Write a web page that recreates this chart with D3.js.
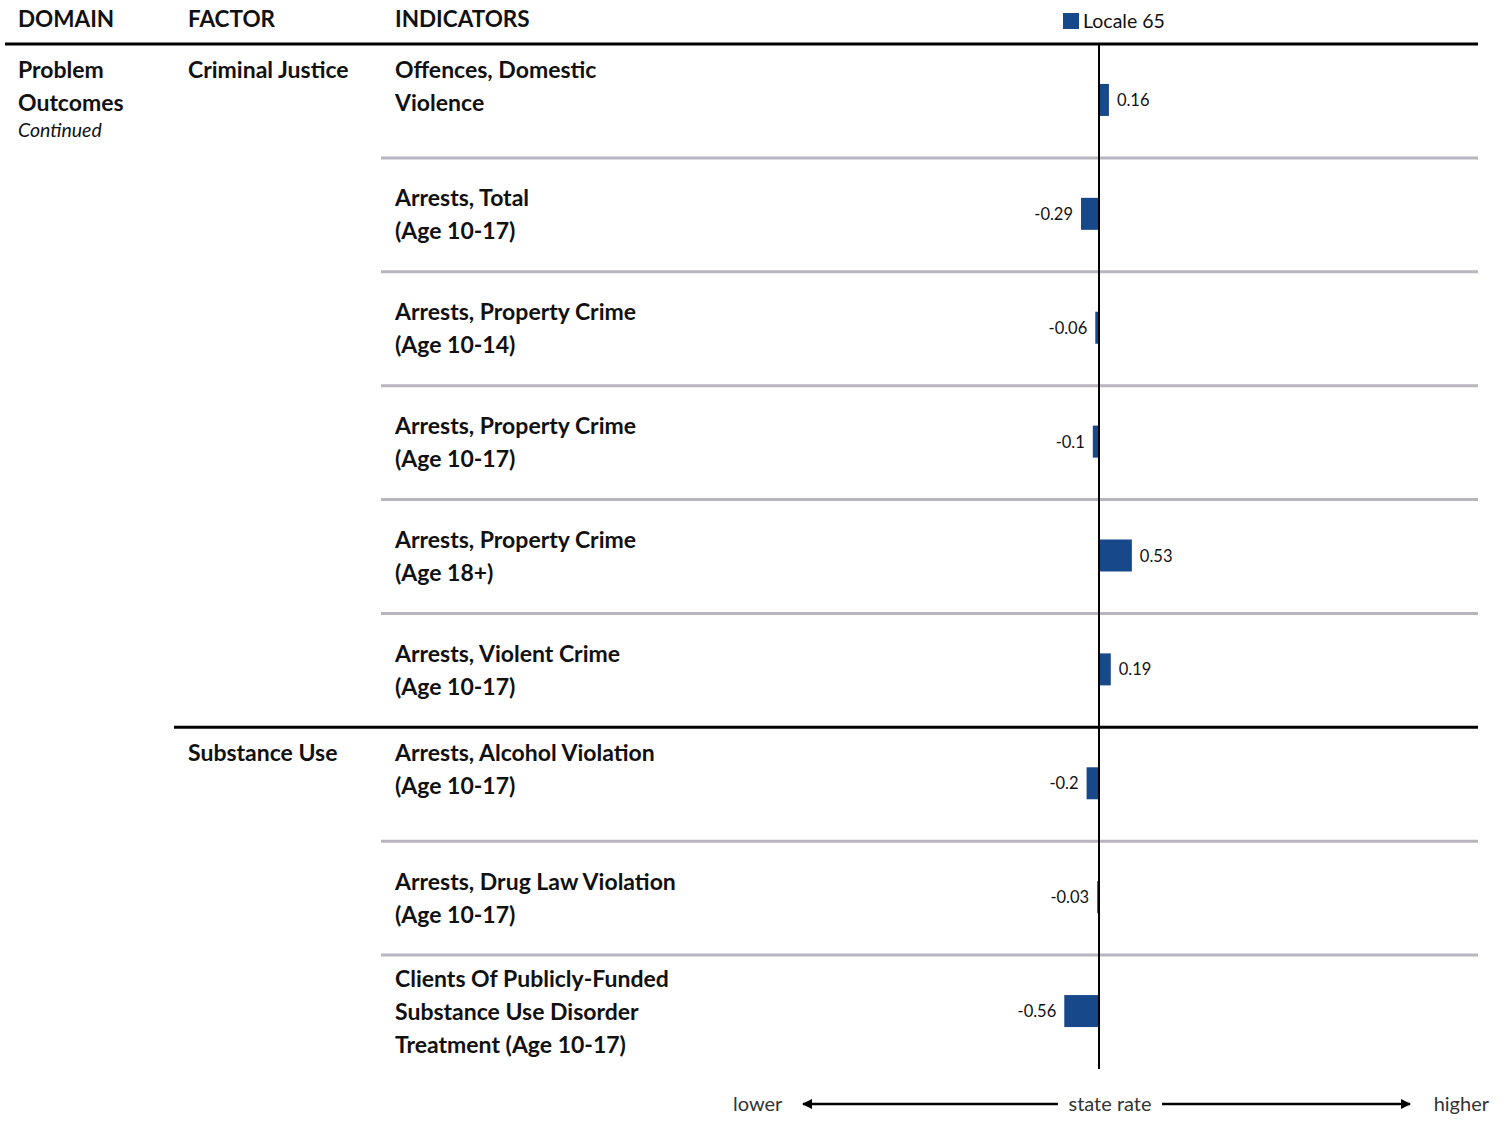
<!DOCTYPE html>
<html>
<head>
<meta charset="utf-8">
<script src="https://cdn.jsdelivr.net/npm/d3@7"></script>
<style>
  body { margin: 0; background: #fff; }
  text { font-family: Lato, "Open Sans", sans-serif; fill: #111; }
</style>
</head>
<body>
<div id="container"></div>
<script>
const w = 1507;
const h = 1121;

const indicators = [
  ['Offences, Domestic', 'Violence'],
  ['Arrests, Total', '(Age 10-17)'],
  ['Arrests, Property Crime', '(Age 10-14)'],
  ['Arrests, Property Crime', '(Age 10-17)'],
  ['Arrests, Property Crime', '(Age 18+)'],
  ['Arrests, Violent Crime', '(Age 10-17)'],
  ['Arrests, Alcohol Violation', '(Age 10-17)'],
  ['Arrests, Drug Law Violation', '(Age 10-17)'],
  ['Clients Of Publicly-Funded', 'Substance Use Disorder', 'Treatment (Age 10-17)']
];
const values = [0.16, -0.29, -0.06, -0.1, 0.53, 0.19, -0.2, -0.03, -0.56];
const labels = ['0.16', '-0.29', '-0.06', '-0.1', '0.53', '0.19', '-0.2', '-0.03', '-0.56'];
const factors = ['Criminal Justice', 'Substance Use'];
const factorStart = [0, 6];
const domainLines = ['Problem', 'Outcomes'];
const seriesName = 'Locale 65';

const barColor = '#17488a';
const y0 = 44, y1 = 1069;
const bold = '23px';

const svg = d3.select('#container')
  .append('svg')
  .attr('width', w)
  .attr('height', h)
  .attr('viewBox', [0, 0, w, h]);

const x = d3.scaleLinear()
  .domain([-1, 1])
  .range([1037, 1161]);

const y = d3.scaleBand()
  .domain(d3.range(values.length))
  .range([y0, y1]);

// header
const heads = [['DOMAIN', 18], ['FACTOR', 188], ['INDICATORS', 395]];
svg.selectAll('.head')
  .data(heads)
  .enter()
  .append('text')
  .attr('x', d => d[1])
  .attr('y', 27)
  .style('font-size', '22.5px')
  .style('font-weight', 'bold')
  .text(d => d[0]);

// legend
svg.append('rect')
  .attr('x', 1063).attr('y', 13)
  .attr('width', 16).attr('height', 16)
  .attr('fill', barColor);
svg.append('text')
  .attr('x', 1083).attr('y', 28)
  .style('font-size', '19.5px')
  .text(seriesName);

// row separators
svg.selectAll('.sep')
  .data(d3.range(1, values.length).filter(i => !factorStart.includes(i)))
  .enter()
  .append('line')
  .attr('x1', 381).attr('x2', 1478)
  .attr('y1', i => y(i)).attr('y2', i => y(i))
  .attr('stroke', '#b8b5c0')
  .attr('stroke-width', 3);

// factor separator
factorStart.slice(1).forEach(i => {
  svg.append('line')
    .attr('x1', 174).attr('x2', 1478)
    .attr('y1', y(i)).attr('y2', y(i))
    .attr('stroke', '#000')
    .attr('stroke-width', 3);
});

svg.append('line')
  .attr('x1', 5).attr('x2', 1478)
  .attr('y1', y0).attr('y2', y0)
  .attr('stroke', '#000')
  .attr('stroke-width', 3);

// domain text
domainLines.forEach((t, j) => {
  svg.append('text')
    .attr('x', 18).attr('y', 78 + j * 33)
    .style('font-size', bold)
    .style('font-weight', 'bold')
    .text(t);
});
svg.append('text')
  .attr('x', 18).attr('y', 137)
  .style('font-size', '19.5px')
  .style('font-style', 'italic')
  .text('Continued');

// factors
factors.forEach((f, k) => {
  svg.append('text')
    .attr('x', 188).attr('y', y(factorStart[k]) + 34)
    .style('font-size', bold)
    .style('font-weight', 'bold')
    .text(f);
});

// indicators
indicators.forEach((lines, i) => {
  let first;
  if (factorStart.includes(i)) {
    first = y(i) + 34;
  } else {
    first = y(i) + y.bandwidth() / 2 - (lines.length - 1) * 33 / 2 + 8;
  }
  lines.forEach((t, j) => {
    svg.append('text')
      .attr('x', 395).attr('y', first + j * 33)
      .style('font-size', bold)
      .style('font-weight', 'bold')
      .text(t);
  });
});

// bars
const bh = 32;
svg.selectAll('.bar')
  .data(values)
  .enter()
  .append('rect')
  .attr('class', 'bar')
  .attr('x', d => x(Math.min(0, d)))
  .attr('y', (d, i) => y(i) + y.bandwidth() / 2 - bh / 2 - 1)
  .attr('width', d => Math.abs(x(d) - x(0)))
  .attr('height', bh)
  .attr('fill', barColor);

svg.selectAll('.val')
  .data(values)
  .enter()
  .append('text')
  .attr('x', d => d < 0 ? x(d) - 8 : x(d) + 8)
  .attr('y', (d, i) => y(i) + y.bandwidth() / 2 + 5)
  .attr('text-anchor', d => d < 0 ? 'end' : 'start')
  .style('font-size', '16.5px')
  .text((d, i) => labels[i]);

// zero axis
svg.append('line')
  .attr('x1', x(0)).attr('x2', x(0))
  .attr('y1', y0).attr('y2', y1)
  .attr('stroke', '#000')
  .attr('stroke-width', 2);

// bottom direction axis
const defs = svg.append('defs');
defs.append('marker')
  .attr('id', 'arr')
  .attr('viewBox', '0 0 10 10')
  .attr('refX', 9).attr('refY', 5)
  .attr('markerWidth', 4).attr('markerHeight', 4)
  .attr('orient', 'auto-start-reverse')
  .append('path')
  .attr('d', 'M0,0L10,5L0,10z')
  .attr('fill', '#000');

svg.append('line')
  .attr('x1', 803).attr('x2', 1058)
  .attr('y1', 1104).attr('y2', 1104)
  .attr('stroke', '#000').attr('stroke-width', 2.5)
  .attr('marker-start', 'url(#arr)');
svg.append('line')
  .attr('x1', 1162).attr('x2', 1410)
  .attr('y1', 1104).attr('y2', 1104)
  .attr('stroke', '#000').attr('stroke-width', 2.5)
  .attr('marker-end', 'url(#arr)');

const axisText = [['lower', 733, 'start'], ['state rate', 1110, 'middle'], ['higher', 1489, 'end']];
svg.selectAll('.ax')
  .data(axisText)
  .enter()
  .append('text')
  .attr('x', d => d[1])
  .attr('y', 1111)
  .attr('text-anchor', d => d[2])
  .style('font-size', '20px')
  .style('fill', '#333')
  .text(d => d[0]);
</script>
</body>
</html>
